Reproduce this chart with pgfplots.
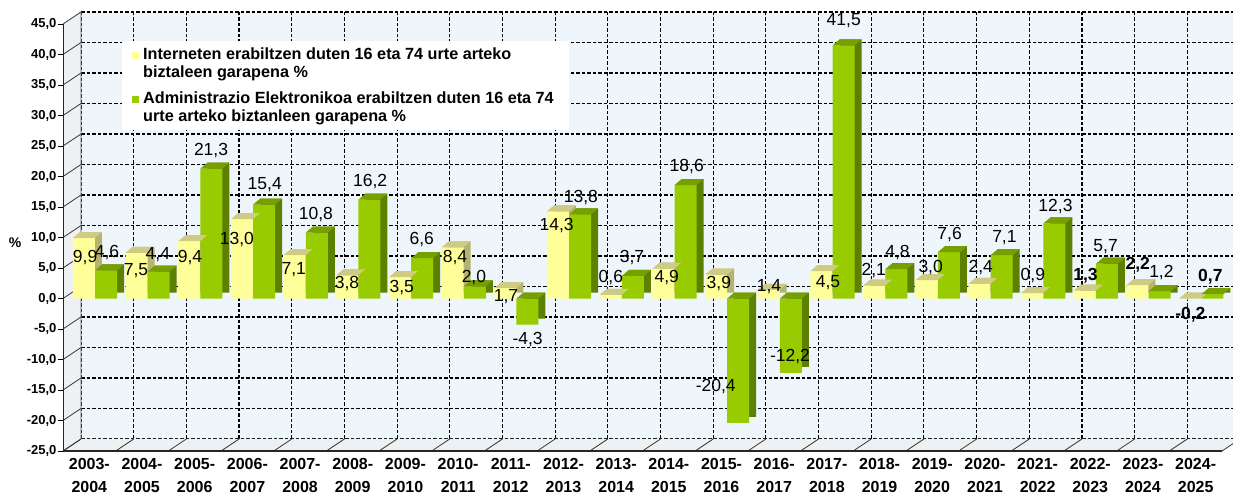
\documentclass[border=0pt]{standalone}
\usepackage{fontspec}
\setmainfont{Liberation Sans}
\usepackage{pgfplots}
\pgfplotsset{compat=1.18}
\usepackage{pgfplotstable}

\definecolor{yfront}{HTML}{FFFF99}
\definecolor{ytop}{HTML}{CFCB85}
\definecolor{yside}{HTML}{B5B36E}
\definecolor{gfront}{HTML}{99CC00}
\definecolor{gtop}{HTML}{76A000}
\definecolor{gside}{HTML}{5E8000}
\definecolor{wall}{HTML}{EEF6FC}
\definecolor{floorc}{HTML}{EEF1F3}

\pgfdeclareplotmark{topY}{%
  \pgfpathmoveto{\pgfpoint{-16.5pt}{0pt}}%
  \pgfpathlineto{\pgfpoint{5.5pt}{0pt}}%
  \pgfpathlineto{\pgfpoint{12.5pt}{6pt}}%
  \pgfpathlineto{\pgfpoint{-9.5pt}{6pt}}%
  \pgfpathclose\pgfusepathqfill}
\pgfdeclareplotmark{topG}{%
  \pgfpathmoveto{\pgfpoint{5.7pt}{0pt}}%
  \pgfpathlineto{\pgfpoint{27.7pt}{0pt}}%
  \pgfpathlineto{\pgfpoint{34.7pt}{6pt}}%
  \pgfpathlineto{\pgfpoint{12.7pt}{6pt}}%
  \pgfpathclose\pgfusepathqfill}

\pgfplotstableread{
x inet admin
0 9.9 4.6
1 7.5 4.4
2 9.4 21.3
3 13.0 15.4
4 7.1 10.8
5 3.8 16.2
6 3.5 6.6
7 8.4 2.0
8 1.7 -4.3
9 14.3 13.8
10 0.6 3.7
11 4.9 18.6
12 3.9 -20.4
13 1.4 -12.2
14 4.5 41.5
15 2.1 4.8
16 3.0 7.6
17 2.4 7.1
18 0.9 12.3
19 1.3 5.7
20 2.2 1.2
21 -0.2 0.7
}\datatable

\begin{document}
\begin{tikzpicture}[x=1pt,y=1pt]
\useasboundingbox (0,0) rectangle (1233,500);
% back wall
\begin{axis}[at={(81pt,61pt)}, anchor=south west, scale only axis,
  width=1159pt, height=427pt, xmin=-0.5, xmax=21.5, ymin=-25, ymax=45,
  axis background/.style={fill=wall},
  xtick={-0.5,0.5,...,21.5}, ytick={-25,-20,...,45},
  grid=major, major grid style={black, dash pattern=on 3.5pt off 2pt, line width=1.1pt},
  xticklabels={}, yticklabels={}, major tick length=0pt,
  axis line style={draw=none}]
\end{axis}
% floor and left wall
\fill[floorc] (63,49) -- (1222,49) -- (1240,61) -- (81,61) -- cycle;
\fill[floorc] (63,49) -- (81,61) -- (81,488) -- (63,476) -- cycle;
\foreach \k in {0,...,22} \draw[black!80, line width=0.8pt] ({63+52.6818*\k},49) -- ({81+52.6818*\k},61);
\foreach \j in {0,...,14} \draw[black!80, line width=0.8pt] (63,{49+30.5*\j}) -- (81,{61+30.5*\j});
\draw[black!60, line width=0.6pt] (81,61) -- (81,488) -- (63,476);

% front axis with bars
\begin{axis}[at={(63pt,49pt)}, anchor=south west, scale only axis,
  width=1159pt, height=427pt, xmin=-0.5, xmax=21.5, ymin=-25, ymax=45,
  clip=false, axis line style={draw=none},
  xtick={0,...,21},
  xticklabels={{2003-\\2004},{2004-\\2005},{2005-\\2006},{2006-\\2007},{2007-\\2008},{2008-\\2009},{2009-\\2010},{2010-\\2011},{2011-\\2012},{2012-\\2013},{2013-\\2014},{2014-\\2015},{2015-\\2016},{2016-\\2017},{2017-\\2018},{2018-\\2019},{2019-\\2020},{2020-\\2021},{2021-\\2022},{2022-\\2023},{2023-\\2024},{2024-\\2025}},
  x tick label style={align=center, font=\bfseries\fontsize{16}{23}\selectfont, yshift=1pt},
  xtick style={draw=none},
  ytick={-25,-20,...,45}, ytick pos=left, xtick pos=bottom,
  tick align=outside, major tick length=5pt,
  ytick style={black, line width=0.7pt},
  yticklabel style={font=\bfseries\fontsize{13}{15}\selectfont, xshift=2pt,
    /pgf/number format/fixed, /pgf/number format/fixed zerofill,
    /pgf/number format/precision=1, /pgf/number format/use comma,
    /pgf/number format/assume math mode=true},
  nodes near coords style={anchor=center, font=\fontsize{17.5}{20}\selectfont, inner sep=0pt},
]
% Internet series
\addplot[ybar, bar width=22pt, bar shift=1.5pt, fill=yside, draw=none, yshift=6pt] table[x=x,y=inet]{\datatable};
\addplot[ybar, bar width=22pt, bar shift=-5.5pt, fill=yfront, draw=none] table[x=x,y=inet]{\datatable};
\addplot[only marks, mark=topY, mark options={fill=ytop, draw=none}, y filter/.expression={max(y,0)}] table[x=x,y=inet]{\datatable};
% Administration series
\addplot[ybar, bar width=22pt, bar shift=23.7pt, fill=gside, draw=none, yshift=6pt] table[x=x,y=admin]{\datatable};
\addplot[ybar, bar width=22pt, bar shift=16.7pt, fill=gfront, draw=none] table[x=x,y=admin]{\datatable};
\addplot[only marks, mark=topG, mark options={fill=gtop, draw=none}, y filter/.expression={max(y,0)}] table[x=x,y=admin]{\datatable};
% labels internet
\addplot[draw=none, mark=none, nodes near coords, point meta=explicit symbolic] coordinates {
(-0.08,6.64) [9,9] (0.885,4.5) [7,5] (1.91,6.64) [9,4] (2.80,9.59) [13,0]
(3.88,4.67) [7,1] (4.89,2.38) [3,8] (5.93,1.72) [3,5] (6.94,6.64) [8,4]
(7.91,0.25) [1,7] (8.87,11.89) [14,3] (9.90,3.52) [0,6] (10.96,3.36) [4,9]
(11.95,2.38) [3,9] (12.90,1.89) [1,4] (14.02,2.54) [4,5] (14.89,4.67) [2,1]
(15.97,5.16) [3,0] (16.92,5.0) [2,4] (17.91,3.69) [0,9] (18.91,3.69) [\textbf{1,3}]
(19.90,5.49) [\textbf{2,2}] (20.90,-2.70) [\textbf{-0,2}]
};
% labels administration
\addplot[draw=none, mark=none, nodes near coords, point meta=explicit symbolic] coordinates {
(0.335,7.46) [4,6] (1.30,7.13) [4,4] (2.31,24.34) [21,3] (3.33,18.6) [15,4]
(4.30,13.85) [10,8] (5.33,19.1) [16,2] (6.31,9.59) [6,6] (7.30,3.52) [2,0]
(8.32,-6.80) [-4,3] (9.33,16.48) [13,8] (10.30,6.64) [3,7] (11.34,21.56) [18,6]
(11.89,-14.5) [-20,4] (13.30,-9.43) [-12,2] (14.32,45.5) [41,5] (15.34,7.62) [4,8]
(16.33,10.41) [7,6] (17.37,9.92) [7,1] (18.34,15.0) [12,3] (19.29,8.44) [5,7]
(20.35,4.18) [1,2] (21.28,3.52) [\textbf{0,7}]
};
\end{axis}
% front edges
\draw[black!85, line width=1.3pt] (63,49) -- (1222,49);
\draw[black!85, line width=0.8pt] (63,49) -- (63,476);
% y label
\node[font=\bfseries\fontsize{14}{16}\selectfont] at (15,257) {\%};
% legend
\fill[white] (122,370) rectangle (569,459);
\fill[yfront] (132,441) rectangle (139,448);
\fill[gfront] (132,397) rectangle (139,404);
\node[anchor=base west, inner sep=0pt, font=\bfseries\fontsize{16.2}{18}\selectfont] at (143,440) {Interneten erabiltzen duten 16 eta 74 urte arteko};
\node[anchor=base west, inner sep=0pt, font=\bfseries\fontsize{16.2}{18}\selectfont] at (143,422) {biztaleen garapena \%};
\node[anchor=base west, inner sep=0pt, font=\bfseries\fontsize{16.2}{18}\selectfont] at (143,396) {Administrazio Elektronikoa erabiltzen duten 16 eta 74};
\node[anchor=base west, inner sep=0pt, font=\bfseries\fontsize{16.2}{18}\selectfont] at (143,378) {urte arteko biztanleen garapena \%};
\end{tikzpicture}
\end{document}
